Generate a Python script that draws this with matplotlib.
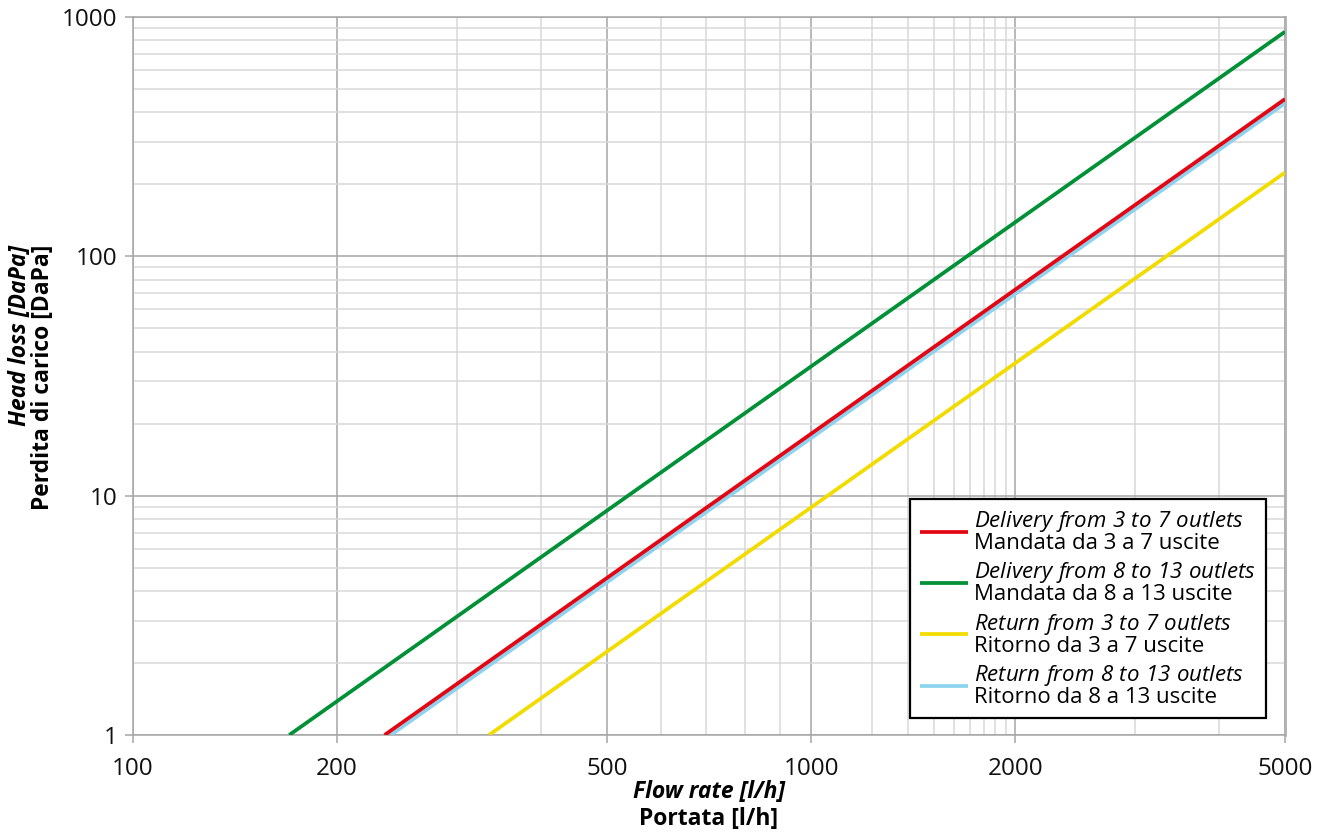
import matplotlib
matplotlib.use("Agg")
import matplotlib.pyplot as plt
from matplotlib.ticker import FixedLocator, FixedFormatter, NullFormatter

# %% data (straight lines on log-log, two end points each)
red_flow = [235, 5000]      # Delivery from 3 to 7 outlets
red_dp = [1, 454]
green_flow = [170, 5000]    # Delivery from 8 to 13 outlets
green_dp = [1, 868]
yellow_flow = [335, 5000]   # Return from 3 to 7 outlets
yellow_dp = [1, 224]
blue_flow = [240, 5000]     # Return from 8 to 13 outlets
blue_dp = [1, 436]

x_major = [100, 200, 500, 1000, 2000, 5000]
x_major_labels = ["100", "200", "500", "1000", "2000", "5000"]
x_minor = [300, 400, 600, 700, 800, 900,
           1232, 1392, 1518, 1623, 1715, 1797, 1870, 1938,
           3000, 4000]
y_major = [1, 10, 100, 1000]
y_major_labels = ["1", "10", "100", "1000"]
y_minor = [k * d for d in [1, 10, 100] for k in range(2, 10)]

labels_en = ["Delivery from 3 to 7 outlets", "Delivery from 8 to 13 outlets",
             "Return from 3 to 7 outlets", "Return from 8 to 13 outlets"]
labels_it = ["Mandata da 3 a 7 uscite", "Mandata da 8 a 13 uscite",
             "Ritorno da 3 a 7 uscite", "Ritorno da 8 a 13 uscite"]

# %% fonts
plt.rcParams['font.family'] = ['Open Sans', 'DejaVu Sans']
plt.rcParams['mathtext.fontset'] = 'custom'
plt.rcParams['mathtext.rm'] = 'Open Sans:italic'   # trick: roman mathtext -> italic, so digits are italic too
plt.rcParams['mathtext.it'] = 'Open Sans:italic'

W, H = 1326, 838
fig = plt.figure(figsize=(W / 100, H / 100), dpi=100)
ax = fig.add_axes([133 / W, 103 / H, 1152 / W, 718 / H])

lw = 2.7
l_red, = ax.plot(red_flow, red_dp, color="#E30613", lw=lw, zorder=4, solid_capstyle="butt")
l_green, = ax.plot(green_flow, green_dp, color="#009036", lw=lw, zorder=4, solid_capstyle="butt")
l_yellow, = ax.plot(yellow_flow, yellow_dp, color="#F2DC00", lw=lw, zorder=4, solid_capstyle="butt")
l_blue, = ax.plot(blue_flow, blue_dp, color="#8DD3F0", lw=lw, zorder=3, solid_capstyle="butt")

ax.set_xscale("log")
ax.set_yscale("log")
ax.set_xlim(100, 5000)
ax.set_ylim(1, 1000)

ax.xaxis.set_major_locator(FixedLocator(x_major))
ax.xaxis.set_major_formatter(FixedFormatter(x_major_labels))
ax.xaxis.set_minor_locator(FixedLocator(x_minor))
ax.xaxis.set_minor_formatter(NullFormatter())
ax.yaxis.set_major_locator(FixedLocator(y_major))
ax.yaxis.set_major_formatter(FixedFormatter(y_major_labels))
ax.yaxis.set_minor_locator(FixedLocator(y_minor))
ax.yaxis.set_minor_formatter(NullFormatter())

# grid: dark grey majors, light grey minors
ax.set_axisbelow(True)
ax.grid(True, which="major", color="#A6A6A6", lw=1.1)
ax.grid(True, which="minor", color="#D9D9D9", lw=1.1)

ax.tick_params(which="major", direction="out", length=6, width=1.1, color="#A6A6A6",
               labelsize=17.5, labelcolor="#111111")
ax.tick_params(axis="x", which="major", pad=10)
ax.tick_params(axis="y", which="major", pad=5)
ax.tick_params(which="minor", length=0)
for s in ax.spines.values():
    s.set_color("#A6A6A6")
    s.set_linewidth(1.1)
ax.spines["right"].set_linewidth(2)
ax.spines["right"].set_color("#B0B0B0")

# %% legend: english line italic, italian line upright
handles = [l_red, l_green, l_yellow, l_blue]
labels = []
for en, it in zip(labels_en, labels_it):
    labels.append("$\\mathrm{" + en.replace(" ", "\\ ") + "}$\n" + it)
leg = ax.legend(handles, labels, loc="lower right", bbox_to_anchor=(0.9835, 0.0237),
                borderaxespad=0, fancybox=False, framealpha=1, edgecolor="black",
                fontsize=16, handlelength=2.2, handletextpad=0.25, labelspacing=0.3,
                borderpad=0.45)
leg.get_frame().set_linewidth(1.6)
leg.set_zorder(10)
for t in leg.get_texts():
    t.set_linespacing(0.92)

# %% axis titles as figure texts (two styles each)
fig.text(709 / W, 1 - 792 / H, "Flow rate [l/h]", ha="center", va="center",
         fontsize=16.5, fontweight="bold", fontstyle="italic")
fig.text(709 / W, 1 - 819 / H, "Portata [l/h]", ha="center", va="center",
         fontsize=16.5, fontweight="bold")
fig.text(20 / W, 1 - 245 / H, "Head loss [DaPa]", ha="center", va="top", rotation=90,
         fontsize=16.5, fontweight="bold", fontstyle="italic")
fig.text(43 / W, 1 - 245 / H, "Perdita di carico [DaPa]", ha="center", va="top", rotation=90,
         fontsize=16.5, fontweight="bold")

fig.savefig("out.png", dpi=100)
